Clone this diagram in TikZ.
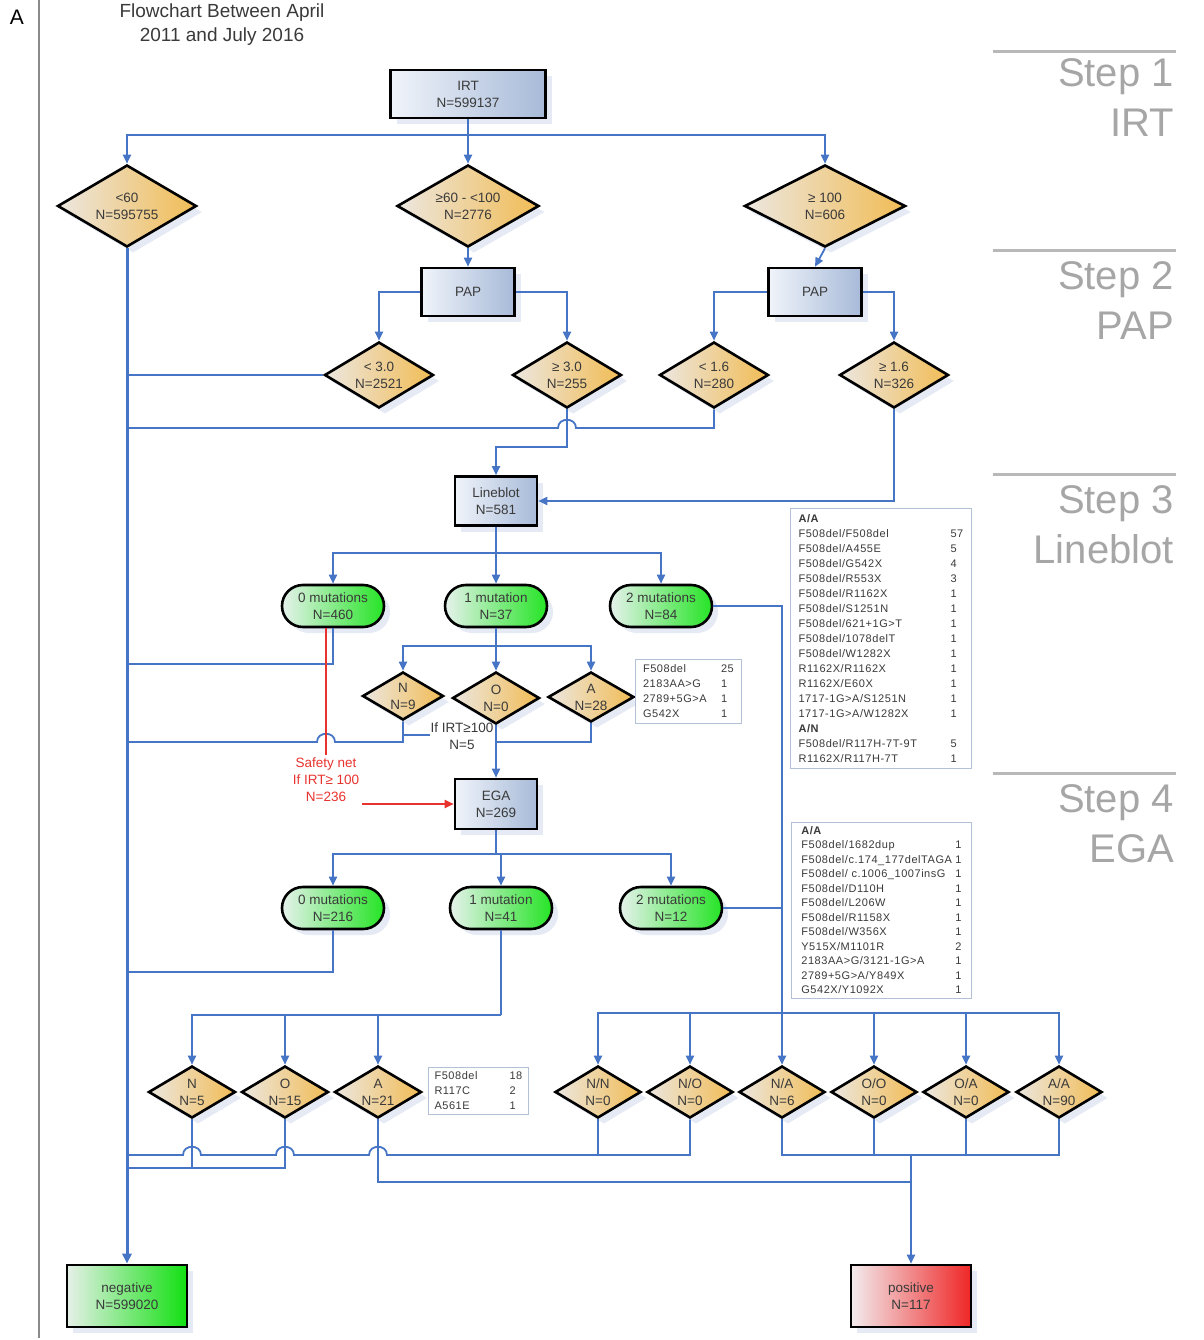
\documentclass[tikz,border=0pt]{standalone}
\usepackage{fontspec}
\setmainfont{Liberation Sans}
\newfontfamily\listfont[LetterSpace=5]{Liberation Sans}
\usetikzlibrary{shapes.geometric,arrows.meta,shadows}

\definecolor{flowblue}{HTML}{4675C6}
\definecolor{labeltext}{HTML}{3A3A3A}
\definecolor{stepgray}{HTML}{A6A6A6}
\definecolor{framegray}{HTML}{8A8A8A}
\definecolor{procL}{HTML}{F0F4FA}
\definecolor{procR}{HTML}{A7BAD8}
\definecolor{decL}{HTML}{ECE7E0}
\definecolor{decR}{HTML}{F1BC55}
\definecolor{termL}{HTML}{E6F2EC}
\definecolor{termR}{HTML}{25E425}
\definecolor{negL}{HTML}{E6F0E8}
\definecolor{negR}{HTML}{12E012}
\definecolor{posL}{HTML}{F3ECEE}
\definecolor{posR}{HTML}{EF2626}
\definecolor{safetyred}{HTML}{E8322E}
\definecolor{shadowblue}{HTML}{CCD6EA}
\definecolor{listframe}{HTML}{B4C0D6}

% one row of a mutation table: name column of fixed width, then the count
\newcommand\listrow[3]{\makebox[#1][l]{#2}#3}

\tikzset{
  nodefont/.style={font=\fontsize{13.5}{17}\selectfont},
  shaped/.style={nodefont, draw=black, line width=2.6pt, text=labeltext,
    align=center, inner sep=0pt,
    drop shadow={shadow xshift=6pt, shadow yshift=-6pt, fill=shadowblue}},
  procbox/.style={shaped, rectangle, left color=procL, right color=procR},
  decision/.style={shaped, diamond, aspect=1.7, left color=decL, right color=decR},
  terminal/.style={shaped, rectangle, rounded corners=21pt, minimum width=102pt,
    minimum height=42pt, left color=termL, right color=termR},
  outcome/.style={shaped, rectangle, minimum width=120pt, minimum height=62pt},
  listbox/.style={draw=listframe, line width=0.8pt, fill=white, anchor=north west,
    align=left, inner xsep=4pt, inner ysep=4pt, text=labeltext,
    font=\listfont\fontsize{11}{15}\selectfont},
  flow/.style={draw=flowblue, line width=1.8pt},
  flowarrow/.style={flow, -{Triangle[width=8pt,length=9pt]}},
  trunk/.style={draw=flowblue, line width=3pt, -{Triangle[width=9pt,length=10pt]}},
  safetyline/.style={draw=safetyred, line width=1.8pt},
  safetyarrow/.style={safetyline, -{Triangle[width=8pt,length=9pt]}},
  stepline/.style={draw=stepgray!80, line width=3pt},
  steptext/.style={anchor=base east, inner sep=0pt, text=stepgray,
    font=\fontsize{40}{48}\selectfont}
}

\begin{document}
\begin{tikzpicture}[x=1pt,y=-1pt]
\useasboundingbox (0,0) rectangle (1203,1340);

% panel frame, letter and title
\draw[line width=1.4pt, draw=framegray] (39,0) -- (39,1338);
\node[font=\fontsize{21}{25}\selectfont, inner sep=0pt] (panel) at (17,17) {A};
\node[font=\fontsize{19}{24}\selectfont, text=labeltext, align=center, inner sep=0pt]
  (title) at (222,25) {Flowchart Between April\\2011 and July 2016};

% step headings on the right
\draw[stepline] (993,52) -- (1176,52);
\node[steptext] (s1) at (1174,87) {Step 1};
\node[steptext] (s1n) at (1174,137) {IRT};
\draw[stepline] (993,251) -- (1176,251);
\node[steptext] (s2) at (1174,289) {Step 2};
\node[steptext] (s2n) at (1174,339) {PAP};
\draw[stepline] (993,474) -- (1176,474);
\node[steptext] (s3) at (1174,513) {Step 3};
\node[steptext] (s3n) at (1174,563) {Lineblot};
\draw[stepline] (993,773) -- (1176,773);
\node[steptext] (s4) at (1174,812) {Step 4};
\node[steptext] (s4n) at (1174,862) {EGA};

% step 1: IRT
\node[procbox, minimum width=155pt, minimum height=48pt] (irt) at (468,94) {IRT\\N=599137};
\node[decision, minimum width=139pt, minimum height=82pt] (d1) at (127,206) {<60\\N=595755};
\node[decision, minimum width=142pt, minimum height=82pt] (d2) at (468,206) {≥60 - <100\\N=2776};
\node[decision, minimum width=161pt, minimum height=82pt] (d3) at (825,206) {≥ 100\\N=606};

% step 2: PAP
\node[procbox, minimum width=93pt, minimum height=48pt] (pap1) at (468,292) {PAP};
\node[procbox, minimum width=93pt, minimum height=48pt] (pap2) at (815,292) {PAP};
\node[decision, minimum width=109pt, minimum height=66pt] (p1) at (379,375) {< 3.0\\N=2521};
\node[decision, minimum width=109pt, minimum height=66pt] (p2) at (567,375) {≥ 3.0\\N=255};
\node[decision, minimum width=109pt, minimum height=66pt] (p3) at (714,375) {< 1.6\\N=280};
\node[decision, minimum width=109pt, minimum height=66pt] (p4) at (894,375) {≥ 1.6\\N=326};

% step 3: Lineblot
\node[procbox, minimum width=82pt, minimum height=49pt] (lb) at (496,501) {Lineblot\\N=581};
\node[terminal] (m0) at (333,606) {0 mutations\\N=460};
\node[terminal] (m1) at (496,606) {1 mutation\\N=37};
\node[terminal] (m2) at (661,606) {2 mutations\\N=84};
\node[decision, minimum width=81pt, minimum height=48pt] (lN) at (403,696) {N\\N=9};
\node[decision, minimum width=87pt, minimum height=52pt] (lO) at (496,698) {O\\N=0};
\node[decision, minimum width=86pt, minimum height=50pt] (lA) at (591,697) {A\\N=28};

% step 4: EGA
\node[procbox, minimum width=82pt, minimum height=50pt] (ega) at (496,804) {EGA\\N=269};
\node[terminal] (e0) at (333,908) {0 mutations\\N=216};
\node[terminal] (e1) at (501,908) {1 mutation\\N=41};
\node[terminal] (e2) at (671,908) {2 mutations\\N=12};
\node[decision, minimum width=87pt, minimum height=52pt] (eN) at (192,1092) {N\\N=5};
\node[decision, minimum width=87pt, minimum height=52pt] (eO) at (285,1092) {O\\N=15};
\node[decision, minimum width=87pt, minimum height=52pt] (eA) at (378,1092) {A\\N=21};
\node[decision, minimum width=86pt, minimum height=52pt] (eNN) at (598,1092) {N/N\\N=0};
\node[decision, minimum width=86pt, minimum height=52pt] (eNO) at (690,1092) {N/O\\N=0};
\node[decision, minimum width=86pt, minimum height=52pt] (eNA) at (782,1092) {N/A\\N=6};
\node[decision, minimum width=86pt, minimum height=52pt] (eOO) at (874,1092) {O/O\\N=0};
\node[decision, minimum width=86pt, minimum height=52pt] (eOA) at (966,1092) {O/A\\N=0};
\node[decision, minimum width=86pt, minimum height=52pt] (eAA) at (1059,1092) {A/A\\N=90};

% outcomes
\node[outcome, left color=negL, right color=negR] (neg) at (127,1296) {negative\\N=599020};
\node[outcome, left color=posL, right color=posR] (pos) at (911,1296) {positive\\N=117};

% ---- connectors ----
% IRT split
\path (irt.south) ++(0,16) coordinate (irtj);
\draw[flow] (irt.south) -- (irtj);
\draw[flowarrow] (irtj) -| (d1.north);
\draw[flowarrow] (irtj) -- (d2.north);
\draw[flowarrow] (irtj) -| (d3.north);
\draw[flowarrow] (d2.south) -- (pap1.north);
\draw[flowarrow] (d3.south) -- (pap2.north);

% negative trunk
\draw[trunk] (d1.south) -- (neg.north);

% PAP splits
\draw[flowarrow] (pap1.west) -| (p1.north);
\draw[flowarrow] (pap1.east) -| (p2.north);
\draw[flowarrow] (pap2.west) -| (p3.north);
\draw[flowarrow] (pap2.east) -| (p4.north);
\draw[flow] (p1.west) -- (127,375);
\draw[flow] (p3.south) -- (714,428) -- (576,428)
  .. controls (576,417) and (558,417) .. (558,428) -- (127,428);
\draw[flowarrow] (p2.south) -- (567,447) -| (lb.north);
\draw[flowarrow] (p4.south) |- (lb.east);

% Lineblot split
\path (lb.south) ++(0,26) coordinate (lbj);
\draw[flow] (lb.south) -- (lbj);
\draw[flowarrow] (lbj) -| (m0.north);
\draw[flowarrow] (lbj) -- (m1.north);
\draw[flowarrow] (lbj) -| (m2.north);
\draw[flow] (m0.south) -- (333,664) -- (127,664);
\path (m1.south) ++(0,18) coordinate (m1j);
\draw[flow] (m1.south) -- (m1j);
\draw[flowarrow] (m1j) -| (lN.north);
\draw[flowarrow] (m1j) -- (lO.north);
\draw[flowarrow] (m1j) -| (lA.north);
\draw[flow] (lN.south) -- (403,742) -- (335,742)
  .. controls (335,731) and (317,731) .. (317,742) -- (127,742);
\node[nodefont, text=labeltext, align=center, inner sep=0pt]
  (ifirt) at (462,736) {If IRT≥100\\N=5};
\coordinate (nbranch) at (403,735);
\draw[flow] (nbranch) -- (ifirt.west |- nbranch);
\draw[flow] (lA.south) -- (591,742) -- (496,742);
\draw[flowarrow] (lO.south) -- (ega.north);

% two-mutation path from Lineblot straight to the EGA genotype classes
\draw[flowarrow] (m2.east) -- (782,606) -- (eNA.north);

% safety net
\node[nodefont, text=safetyred, align=center, inner sep=0pt]
  (safety) at (326,780) {Safety net\\If IRT≥ 100\\N=236};
\draw[safetyline] (safety.north |- m0.south) -- ([yshift=3pt]safety.north);
\coordinate (safetyj) at (362,804);
\draw[safetyarrow] (safetyj) -- (ega.west);

% EGA split
\path (ega.south) ++(0,24) coordinate (egaj);
\draw[flow] (ega.south) -- (egaj);
\draw[flowarrow] (egaj) -| (e0.north);
\draw[flowarrow] (egaj) -| (e1.north);
\draw[flowarrow] (egaj) -| (e2.north);
\draw[flow] (e0.south) -- (333,972) -- (127,972);
\path (e1.south) ++(0,85) coordinate (e1j);
\draw[flow] (e1.south) -- (e1j);
\draw[flowarrow] (e1j) -| (eN.north);
\draw[flowarrow] (e1j) -| (eO.north);
\draw[flowarrow] (e1j) -| (eA.north);
\draw[flow] (e2.east) -- (782,908);
\coordinate (rj) at (782,1013);
\draw[flowarrow] (rj) -| (eNN.north);
\draw[flowarrow] (rj) -| (eNO.north);
\draw[flowarrow] (rj) -| (eOO.north);
\draw[flowarrow] (rj) -| (eOA.north);
\draw[flowarrow] (rj) -| (eAA.north);

% bottom collectors
\draw[flow] (eN.south) -- (192,1168);
\draw[flow] (eO.south) -- (285,1168) -- (127,1168);
\draw[flow] (eA.south) -- (378,1182) -- (911,1182);
\draw[flow] (eNN.south) -- (598,1155);
\draw[flow] (eNO.south) -- (690,1155) -- (387,1155)
  .. controls (387,1144) and (369,1144) .. (369,1155) -- (294,1155)
  .. controls (294,1144) and (276,1144) .. (276,1155) -- (201,1155)
  .. controls (201,1144) and (183,1144) .. (183,1155) -- (127,1155);
\draw[flow] (eNA.south) -- (782,1155) -- (1059,1155) -- (eAA.south);
\draw[flow] (eOO.south) -- (874,1155);
\draw[flow] (eOA.south) -- (966,1155);
\coordinate (posj) at (911,1155);
\draw[flowarrow] (posj) -- (pos.north);

% mutation tables
\node[listbox, minimum width=106pt, minimum height=64pt] (lst1) at (635,659)
  {\listrow{78pt}{F508del}{25}\\
   \listrow{78pt}{2183AA>G}{1}\\
   \listrow{78pt}{2789+5G>A}{1}\\
   \listrow{78pt}{G542X}{1}};
\node[listbox, minimum width=181pt, minimum height=260pt] (lstAA) at (790,508)
  {\textbf{A/A}\\
   \listrow{152pt}{F508del/F508del}{57}\\
   \listrow{152pt}{F508del/A455E}{5}\\
   \listrow{152pt}{F508del/G542X}{4}\\
   \listrow{152pt}{F508del/R553X}{3}\\
   \listrow{152pt}{F508del/R1162X}{1}\\
   \listrow{152pt}{F508del/S1251N}{1}\\
   \listrow{152pt}{F508del/621+1G>T}{1}\\
   \listrow{152pt}{F508del/1078delT}{1}\\
   \listrow{152pt}{F508del/W1282X}{1}\\
   \listrow{152pt}{R1162X/R1162X}{1}\\
   \listrow{152pt}{R1162X/E60X}{1}\\
   \listrow{152pt}{1717-1G>A/S1251N}{1}\\
   \listrow{152pt}{1717-1G>A/W1282X}{1}\\
   \textbf{A/N}\\
   \listrow{152pt}{F508del/R117H-7T-9T}{5}\\
   \listrow{152pt}{R1162X/R117H-7T}{1}};
\node[listbox, minimum width=180pt, minimum height=173pt,
      font=\listfont\fontsize{11}{14.5}\selectfont] (lstEGA) at (791,822)
  {\textbf{A/A}\\
   \listrow{154pt}{F508del/1682dup}{1}\\
   \listrow{154pt}{F508del/c.174\_177delTAGA}{1}\\
   \listrow{154pt}{F508del/ c.1006\_1007insG}{1}\\
   \listrow{154pt}{F508del/D110H}{1}\\
   \listrow{154pt}{F508del/L206W}{1}\\
   \listrow{154pt}{F508del/R1158X}{1}\\
   \listrow{154pt}{F508del/W356X}{1}\\
   \listrow{154pt}{Y515X/M1101R}{2}\\
   \listrow{154pt}{2183AA>G/3121-1G>A}{1}\\
   \listrow{154pt}{2789+5G>A/Y849X}{1}\\
   \listrow{154pt}{G542X/Y1092X}{1}};
\node[listbox, minimum width=100pt, minimum height=47pt, inner ysep=3pt] (lst2) at (428,1067)
  {\listrow{75pt}{F508del}{18}\\
   \listrow{75pt}{R117C}{2}\\
   \listrow{75pt}{A561E}{1}};
\end{tikzpicture}
\end{document}
